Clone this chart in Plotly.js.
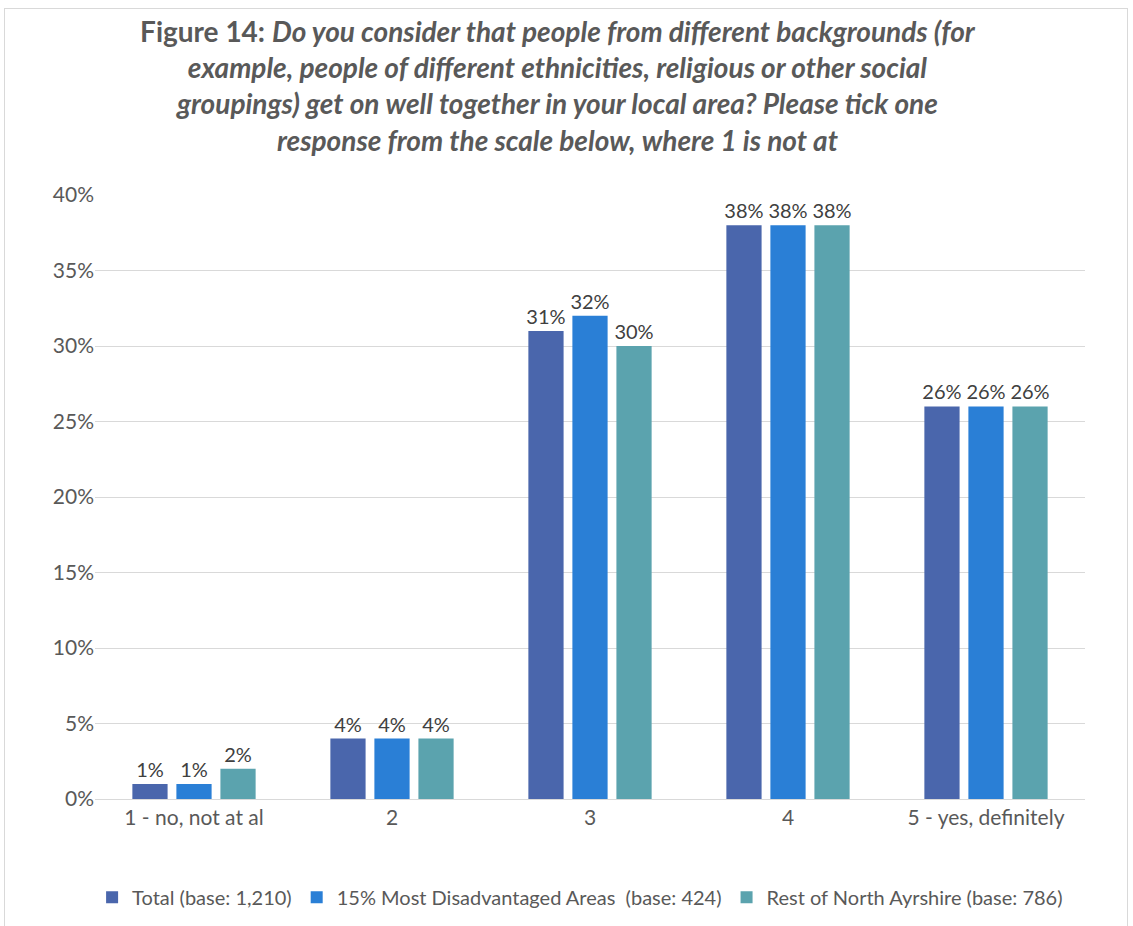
<!DOCTYPE html>
<html>
<head>
<meta charset="utf-8">
<script src="https://cdn.plot.ly/plotly-3.0.1.min.js"></script>
<style>
html,body{margin:0;padding:0;background:#fff;}
#chart{width:1133px;height:926px;}
#frame{position:absolute;left:4px;top:8px;width:1122px;height:930px;border:1px solid #d9d9d9;pointer-events:none;}
</style>
</head>
<body>
<div id="frame"></div>
<div id="chart"></div>
<script>
const categories = ["1 - no, not at al", "2", "3", "4", "5 - yes, definitely"];
const seriesNames = ["Total (base: 1,210)", "15% Most Disadvantaged Areas  (base: 424)", "Rest of North Ayrshire (base: 786)"];
const totalValues = [0.01, 0.04, 0.31, 0.38, 0.26];
const disadvantagedValues = [0.01, 0.04, 0.32, 0.38, 0.26];
const restValues = [0.02, 0.04, 0.30, 0.38, 0.26];
const colors = ["#4A66AC", "#2A7FD6", "#5BA3AE"];
const yTicks = [0, 0.05, 0.10, 0.15, 0.20, 0.25, 0.30, 0.35, 0.40];

const font = "Lato, 'Open Sans', sans-serif";
const allValues = [totalValues, disadvantagedValues, restValues];
const traces = allValues.map((vals, i) => ({
  type: "bar",
  name: seriesNames[i],
  x: categories,
  y: vals,
  marker: {color: colors[i]},
  texttemplate: "%{y:.0%}",
  textposition: "outside",
  constraintext: "none",
  textfont: {family: font, size: 20, color: "#404040"},
  cliponaxis: false,
  hoverinfo: "skip"
}));

const layout = {
  width: 1133, height: 926,
  margin: {l: 95, r: 48, t: 195, b: 127, autoexpand: false},
  paper_bgcolor: "rgba(0,0,0,0)",
  plot_bgcolor: "#fff",
  barmode: "group",
  bargap: 0.333,
  bargroupgap: 0.2,
  font: {family: font, color: "#595959"},
  title: {
    text: "<b>Figure 14: <i>Do you consider that people from different backgrounds (for<br>example, people of different ethnicities, religious or other social<br>groupings) get on well together in your local area? Please tick one<br>response from the scale below, where 1 is not at</i></b>",
    font: {family: font, size: 28, color: "#595959"},
    x: 0.492, xref: "container", xanchor: "center",
    y: 0.955, yref: "container", yanchor: "top"
  },
  xaxis: {
    type: "category",
    tickfont: {family: font, size: 21, color: "#595959"},
    showgrid: false,
    showline: true, linecolor: "#d9d9d9", linewidth: 1,
    ticks: ""
  },
  yaxis: {
    range: [0, 0.4],
    tickvals: yTicks,
    tickformat: ".0%",
    tickfont: {family: font, size: 21, color: "#595959"},
    showgrid: true, gridcolor: "#d9d9d9", gridwidth: 1,
    zeroline: false, showline: false, ticks: "",
    ticklen: 0
  },
  legend: {
    orientation: "h",
    x: 0.512, xref: "container", xanchor: "center",
    y: 0.031, yref: "container", yanchor: "middle",
    font: {family: font, size: 20, color: "#595959"},
    itemwidth: 30,
    traceorder: "normal"
  },
  showlegend: true
};

Plotly.newPlot("chart", traces, layout, {displayModeBar: false, staticPlot: true});
</script>
</body>
</html>
